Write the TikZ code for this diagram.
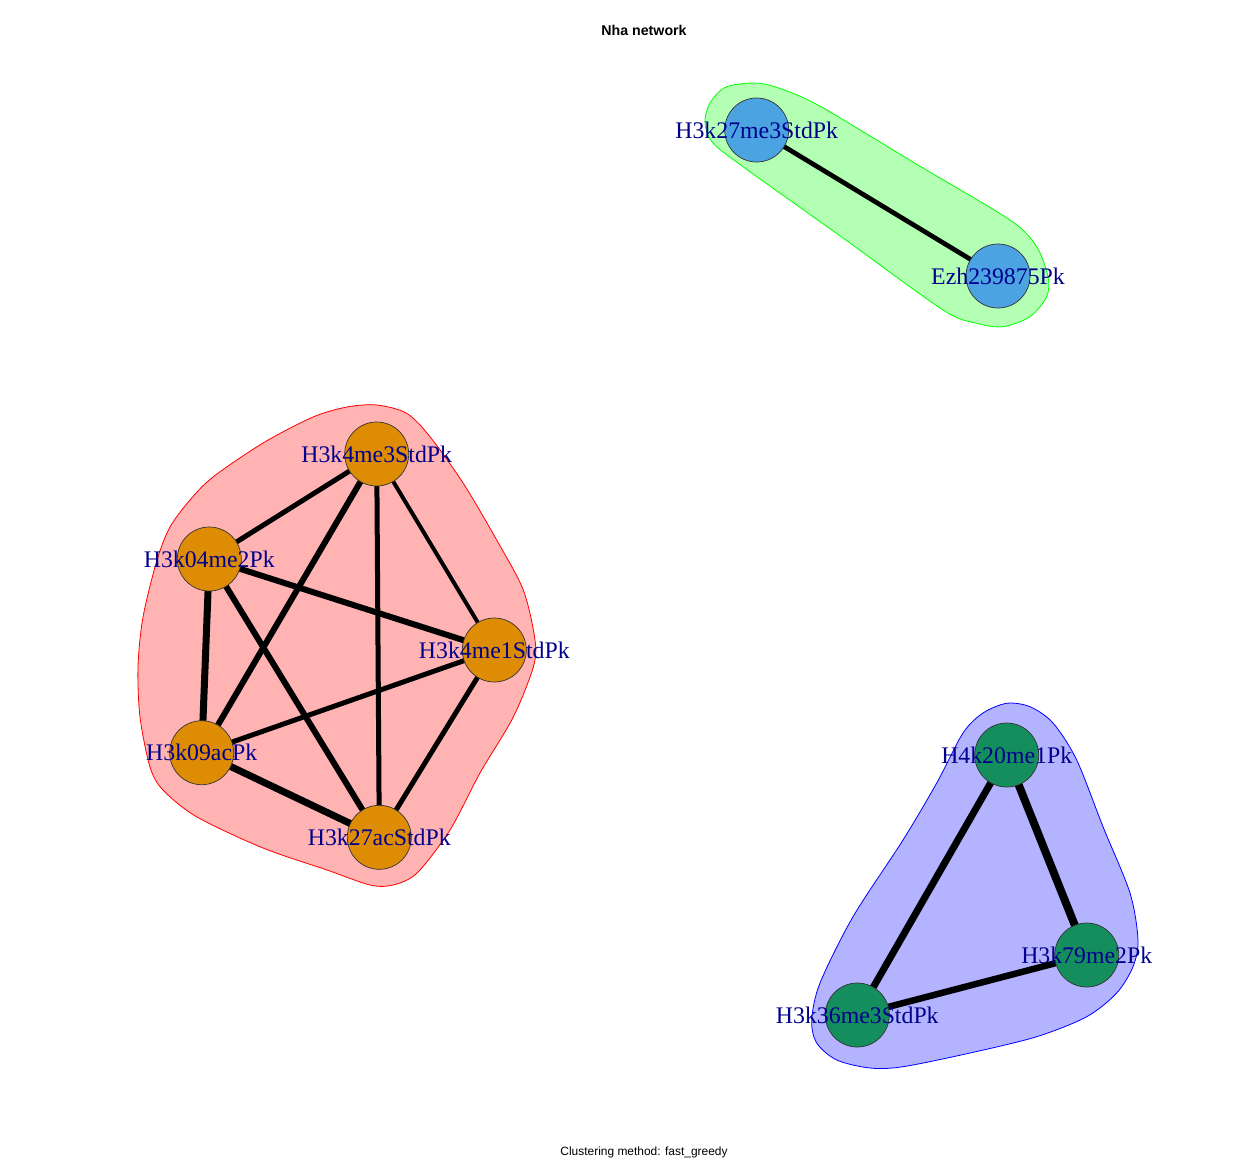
\documentclass[tikz,border=0pt]{standalone}
\usepackage{fontspec}
\setmainfont{Liberation Serif}
\newfontfamily\helv{Liberation Sans}
\pgfdeclarelayer{hulls}
\pgfdeclarelayer{edges}
\pgfsetlayers{hulls,edges,main}
\definecolor{nOrange}{HTML}{DF8C05}
\definecolor{nBlue}{HTML}{4BA3E2}
\definecolor{nGreen}{HTML}{158E5E}
\definecolor{lblcol}{HTML}{00008B}
\definecolor{hRed}{HTML}{FFB3B3}
\definecolor{hGreen}{HTML}{B3FFB3}
\definecolor{hBlue}{HTML}{B3B3FF}
\tikzset{
  vtx/.style={circle, draw=black!80, line width=0.7pt, minimum size=64pt, inner sep=0pt},
  lbl/.style={text=lblcol, font=\fontsize{23.8}{24}\selectfont, inner sep=0pt},
  edg/.style={draw=black, line cap=butt},
  hull/.style={line width=0.8pt}
}
\begin{document}
\begin{tikzpicture}[x=1pt,y=-1pt]
\useasboundingbox (0,0) rectangle (1260,1160);

% title and caption
\node[font=\helv\bfseries\fontsize{14.2}{15}\selectfont, anchor=base] (title) at (644,35) {Nha network};
\node[font=\helv\fontsize{11.95}{13}\selectfont, anchor=base] (caption) at (644,1155.7) {Clustering method: fast\_greedy};

% nodes
\node[vtx, fill=nBlue, label={[lbl]center:H3k27me3StdPk}] (k27me3) at (756.7,130) {};
\node[vtx, fill=nBlue, label={[lbl]center:Ezh239875Pk}] (ezh) at (998,276) {};

\node[vtx, fill=nOrange, label={[lbl]center:H3k4me3StdPk}] (k4me3) at (376.7,454) {};
\node[vtx, fill=nOrange, label={[lbl]center:H3k04me2Pk}] (k04me2) at (209.3,559) {};
\node[vtx, fill=nOrange, label={[lbl]center:H3k4me1StdPk}] (k4me1) at (494.3,650) {};
\node[vtx, fill=nOrange, label={[lbl]center:H3k09acPk}] (k09ac) at (201.7,752.7) {};
\node[vtx, fill=nOrange, label={[lbl]center:H3k27acStdPk}] (k27ac) at (379.3,837.3) {};

\node[vtx, fill=nGreen, label={[lbl]center:H4k20me1Pk}] (k20me1) at (1006.7,755) {};
\node[vtx, fill=nGreen, label={[lbl]center:H3k79me2Pk}] (k79me2) at (1086.7,955) {};
\node[vtx, fill=nGreen, label={[lbl]center:H3k36me3StdPk}] (k36me3) at (857.3,1015) {};

% edges
\begin{pgfonlayer}{edges}
\draw[edg, line width=4.7pt] (k27me3.center) -- (ezh.center);

\draw[edg, line width=5pt] (k4me3.center) -- (k04me2.center);
\draw[edg, line width=6pt] (k4me3.center) -- (k09ac.center);
\draw[edg, line width=5pt] (k4me3.center) -- (k27ac.center);
\draw[edg, line width=4pt] (k4me3.center) -- (k4me1.center);
\draw[edg, line width=6pt] (k04me2.center) -- (k4me1.center);
\draw[edg, line width=7pt] (k04me2.center) -- (k09ac.center);
\draw[edg, line width=6pt] (k04me2.center) -- (k27ac.center);
\draw[edg, line width=5pt] (k4me1.center) -- (k09ac.center);
\draw[edg, line width=5pt] (k4me1.center) -- (k27ac.center);
\draw[edg, line width=7pt] (k09ac.center) -- (k27ac.center);

\draw[edg, line width=8pt] (k20me1.center) -- (k79me2.center);
\draw[edg, line width=7pt] (k20me1.center) -- (k36me3.center);
\draw[edg, line width=6.5pt] (k36me3.center) -- (k79me2.center);
\end{pgfonlayer}

% background and hulls
\begin{pgfonlayer}{hulls}
\fill[white] (0,0) rectangle (1260,1160);
\draw[hull, draw=red, fill=hRed] plot[smooth cycle] coordinates {
 (376.7,405) (406.7,413.3) (430,436.7) (463.3,483.3) (496.7,540) (523.3,590)
 (535,640) (533.3,667) (513.3,717) (480,773) (450,830) (417,873) (393,885)
 (370,885) (327,870) (263,848) (197,817) (163,790) (150,767) (140,717)
 (138,667) (143,617) (157,560) (170,527) (190,500) (213,477) (263,443)
 (313,417) (347,407)};
\draw[hull, draw=green, fill=hGreen] plot[smooth cycle] coordinates {
 (726.7,86.7) (760,83.3) (793,93.3) (826.7,110) (918,165) (1010,220)
 (1036.7,246.7) (1048,276.7) (1046.7,296.7) (1030,316.7) (1003,326.7)
 (976.7,323.3) (943,310) (843,238) (743,166.7) (713,143) (705,123) (710,103)};
\draw[hull, draw=blue, fill=hBlue] plot[smooth cycle] coordinates {
 (1006.7,703.3) (1030,706.7) (1053,723) (1076.7,760) (1103,826.7) (1130,893)
 (1138,940) (1133,966.7) (1116.7,993) (1086.7,1016.7) (1036.7,1036.7)
 (970,1053) (903,1066.7) (870,1068) (836.7,1060) (816.7,1043) (811.7,1020)
 (820,983) (853,916.7) (903,840) (936.7,783) (963,733) (983,713)};
\end{pgfonlayer}
\end{tikzpicture}
\end{document}
